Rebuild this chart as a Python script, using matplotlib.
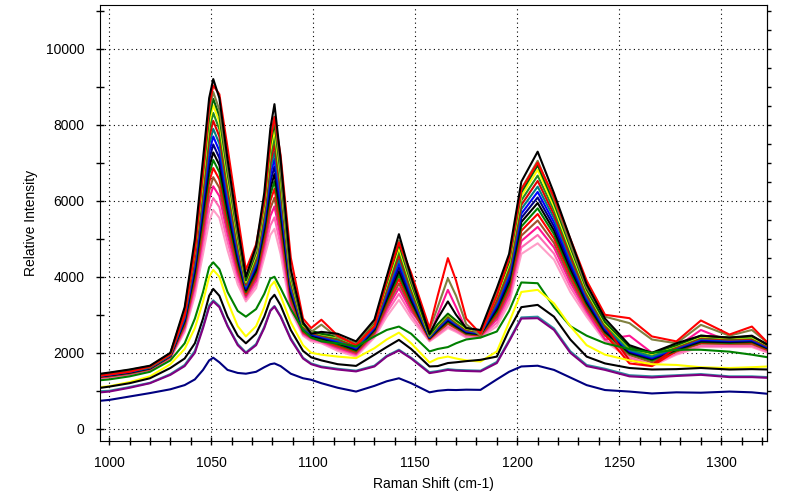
import matplotlib
matplotlib.use("Agg")
import matplotlib.pyplot as plt
from matplotlib.ticker import MultipleLocator, NullFormatter

plt.rcParams['font.family'] = ['Liberation Sans', 'DejaVu Sans']

shift = [996, 1000, 1010, 1020, 1030, 1037, 1042, 1046, 1049, 1051,
         1054, 1058, 1063, 1067, 1072, 1076, 1079, 1081, 1084, 1089,
         1095, 1099, 1104, 1112, 1121, 1130, 1136, 1142, 1148, 1157,
         1161, 1166, 1170, 1175, 1182, 1190, 1196, 1202, 1210, 1218,
         1226, 1234, 1243, 1255, 1266, 1278, 1290, 1304, 1315, 1323]

# upper group of spectra
black_a = [1450, 1480, 1560, 1660, 2000, 3200, 5000, 7100, 8700, 9200, 8700, 7100, 5300, 4000, 4800, 6200, 7900, 8540, 7100, 4200,
           2800, 2500, 2550, 2500, 2300, 2870, 4000, 5120, 4000, 2500, 2900, 3350, 3000, 2650, 2600, 3700, 4600, 6500, 7290, 6200,
           5000, 3800, 2900, 2200, 2000, 2250, 2450, 2400, 2450, 2200]
red_a = [1400, 1430, 1500, 1640, 1960, 3000, 4700, 6800, 8500, 9030, 8800, 7400, 5600, 4180, 4850, 6000, 7600, 8200, 7200, 4500,
         2900, 2650, 2870, 2450, 2200, 2700, 3900, 4900, 4100, 2650, 3500, 4490, 3900, 2900, 2500, 3500, 4500, 6300, 7000, 6100,
         5000, 3900, 3000, 2910, 2430, 2300, 2850, 2480, 2690, 2250]
olive_a = [1440, 1470, 1550, 1650, 1990, 3140, 4850, 6850, 8380, 8860, 8390, 6860, 5150, 4000, 4690, 6030, 7620, 8210, 6850, 4090,
           2800, 2550, 2740, 2400, 2250, 2820, 3900, 4950, 3900, 2600, 3200, 3960, 3500, 2750, 2450, 3600, 4470, 6310, 7050, 6030,
           4860, 3720, 2950, 2780, 2350, 2250, 2735, 2450, 2600, 2250]
dkgreen_a = [1430, 1460, 1540, 1640, 1980, 3100, 4780, 6730, 8210, 8680, 8230, 6740, 5080, 3900, 4640, 5950, 7480, 8050, 6730, 4040,
             2750, 2580, 2500, 2430, 2240, 2800, 3840, 4860, 3840, 2470, 2750, 3030, 2850, 2660, 2570, 3550, 4400, 6220, 6930, 5940,
             4790, 3670, 2810, 2150, 1990, 2200, 2450, 2400, 2430, 2210]
yellow_a = [1430, 1450, 1530, 1640, 1970, 3070, 4700, 6600, 8050, 8510, 8070, 6620, 5000, 3870, 4580, 5860, 7340, 7880, 6600, 3980,
            2730, 2570, 2490, 2410, 2220, 2780, 3790, 4770, 3780, 2460, 2730, 3010, 2830, 2640, 2560, 3500, 4340, 6120, 6810, 5850,
            4720, 3630, 2780, 2130, 1970, 2190, 2430, 2390, 2410, 2200]
green_a = [1420, 1450, 1520, 1630, 1960, 3030, 4610, 6450, 7860, 8310, 7880, 6480, 4910, 3830, 4510, 5760, 7170, 7690, 6450, 3910,
           2710, 2550, 2470, 2380, 2200, 2750, 3730, 4670, 3710, 2450, 2710, 2980, 2810, 2620, 2550, 3440, 4260, 6010, 6660, 5750,
           4640, 3580, 2740, 2110, 1950, 2170, 2410, 2370, 2390, 2190]
red_b = [1410, 1440, 1520, 1620, 1950, 2990, 4520, 6300, 7660, 8100, 7690, 6330, 4820, 3790, 4450, 5660, 7000, 7490, 6300, 3850,
         2690, 2530, 2450, 2360, 2170, 2720, 3660, 4570, 3650, 2440, 2690, 2960, 2790, 2600, 2540, 3380, 4180, 5890, 6520, 5640,
         4550, 3530, 2710, 1800, 1680, 2150, 2390, 2350, 2370, 2170]
teal_a = [1400, 1430, 1510, 1610, 1940, 2950, 4430, 6150, 7470, 7890, 7500, 6190, 4730, 3750, 4380, 5550, 6840, 7290, 6150, 3780,
          2670, 2510, 2440, 2330, 2150, 2690, 3600, 4460, 3580, 2420, 2670, 2930, 2770, 2590, 2520, 3320, 4110, 5780, 6370, 5540,
          4470, 3480, 2670, 2070, 1900, 2140, 2370, 2340, 2360, 2160]
blue_a = [1400, 1420, 1500, 1610, 1930, 2910, 4340, 6000, 7270, 7690, 7310, 6040, 4640, 3710, 4320, 5450, 6670, 7100, 6000, 3720,
          2650, 2490, 2420, 2300, 2120, 2660, 3540, 4360, 3520, 2410, 2650, 2900, 2750, 2570, 2510, 3260, 4030, 5660, 6230, 5430,
          4380, 3430, 2640, 2050, 1870, 2120, 2350, 2320, 2340, 2140]
navy_a = [1390, 1415, 1490, 1600, 1925, 2875, 4250, 5850, 7075, 7480, 7125, 5900, 4550, 3675, 4250, 5350, 6500, 6900, 5850, 3650,
          2625, 2470, 2400, 2275, 2100, 2635, 3475, 4255, 3450, 2400, 2625, 2875, 2725, 2550, 2500, 3200, 3950, 5550, 6085, 5325,
          4300, 3375, 2600, 2025, 1850, 2100, 2325, 2300, 2315, 2125]
black_b = [1380, 1410, 1480, 1590, 1920, 2840, 4160, 5700, 6880, 7270, 6940, 5760, 4460, 3640, 4180, 5250, 6330, 6700, 5700, 3580,
           2600, 2450, 2380, 2250, 2080, 2610, 3410, 4150, 3380, 2390, 2600, 2850, 2700, 2530, 2490, 3140, 3870, 5440, 5940, 5220,
           4220, 3320, 2560, 2000, 1830, 2080, 2300, 2280, 2300, 2110]
green_b = [1380, 1400, 1470, 1590, 1910, 2800, 4070, 5550, 6690, 7070, 6750, 5610, 4370, 3600, 4120, 5150, 6160, 6510, 5550, 3520,
           2580, 2430, 2360, 2220, 2050, 2580, 3350, 4050, 3320, 2380, 2580, 2820, 2680, 2510, 2480, 3080, 3790, 5320, 5800, 5120,
           4130, 3270, 2530, 1980, 1800, 2060, 2280, 2260, 2280, 2100]
red_c = [1370, 1390, 1470, 1580, 1900, 2760, 3980, 5400, 6490, 6860, 6560, 5470, 4280, 3560, 4050, 5040, 6000, 6310, 5400, 3450,
         2560, 2410, 2350, 2190, 2030, 2550, 3290, 3940, 3250, 2360, 2560, 2790, 2660, 2500, 2460, 3020, 3720, 5210, 5650, 5010,
         4050, 3220, 2490, 1720, 1650, 2050, 2260, 2250, 2260, 2080]
sienna_a = [1360, 1380, 1455, 1570, 1890, 2710, 3880, 5230, 6260, 6620, 6340, 5300, 4180, 3510, 3980, 4930, 5800, 6080, 5230, 3380,
            2540, 2390, 2330, 2160, 2000, 2520, 3210, 3820, 3180, 2350, 2540, 2760, 2640, 2480, 2450, 2950, 3630, 5080, 5480, 4890,
            3950, 3160, 2450, 1940, 1750, 2030, 2240, 2230, 2230, 2060]
dpink_a = [1350, 1375, 1445, 1560, 1880, 2670, 3770, 5050, 6040, 6380, 6120, 5130, 4070, 3470, 3900, 4810, 5600, 5850, 5050, 3300,
           2510, 2380, 2300, 2130, 1970, 2490, 3140, 3700, 3100, 2450, 3000, 3655, 3200, 2600, 2440, 2880, 3530, 4940, 5310, 4770,
           3850, 3100, 2350, 2450, 2000, 2150, 2600, 2300, 2400, 2150]
hpink_a = [1340, 1360, 1430, 1550, 1860, 2610, 3640, 4830, 5740, 6070, 5830, 4920, 3940, 3410, 3800, 4650, 5350, 5560, 4830, 3200,
           2480, 2340, 2280, 2090, 1940, 2440, 3050, 3550, 3000, 2320, 2480, 2690, 2580, 2430, 2420, 2790, 3420, 4770, 5100, 4610,
           3730, 3030, 2350, 1880, 1690, 1980, 2180, 2180, 2180, 2020]
lpink_a = [1330, 1350, 1420, 1540, 1850, 2550, 3500, 4600, 5450, 5760, 5550, 4700, 3800, 3350, 3700, 4500, 5100, 5260, 4600, 3100,
           2450, 2300, 2250, 2050, 1900, 2400, 2950, 3390, 2900, 2300, 2450, 2650, 2550, 2400, 2400, 2700, 3300, 4600, 4880, 4450,
           3600, 2950, 2300, 1850, 1650, 1950, 2150, 2150, 2150, 2000]

# lower spectra
green_low = [1280, 1300, 1380, 1500, 1800, 2250, 2900, 3600, 4250, 4380, 4200, 3600, 3100, 2950, 3150, 3550, 3950, 4000, 3700, 3150,
             2600, 2400, 2300, 2250, 2165, 2430, 2600, 2690, 2500, 2035, 2100, 2150, 2250, 2350, 2400, 2560, 3100, 3850, 3830, 3200,
             2700, 2450, 2250, 2100, 2000, 2080, 2080, 2030, 1950, 1880]
yellow_low = [1100, 1120, 1230, 1380, 1700, 2100, 2650, 3350, 4000, 4180, 4000, 3350, 2700, 2430, 2700, 3200, 3750, 3875, 3500, 2800,
              2200, 2000, 1950, 1900, 1860, 2120, 2350, 2530, 2250, 1745, 1850, 1900, 1850, 1800, 1770, 2035, 2800, 3600, 3655, 3300,
              2700, 2200, 1950, 1800, 1700, 1680, 1620, 1600, 1620, 1640]
black_low = [1080, 1110, 1200, 1330, 1600, 1850, 2250, 2900, 3500, 3680, 3500, 2950, 2450, 2250, 2500, 2950, 3400, 3525, 3250, 2600,
             2050, 1880, 1800, 1700, 1655, 1950, 2150, 2340, 2100, 1640, 1650, 1730, 1750, 1780, 1815, 1900, 2600, 3200, 3260, 2950,
             2350, 1900, 1720, 1600, 1560, 1570, 1600, 1560, 1570, 1560]
teal_low = [990, 1000, 1100, 1210, 1440, 1680, 2050, 2700, 3250, 3380, 3230, 2720, 2230, 2010, 2230, 2680, 3120, 3230, 2970, 2380,
            1870, 1720, 1640, 1580, 1530, 1660, 1920, 2080, 1870, 1490, 1520, 1570, 1550, 1540, 1530, 1760, 2330, 2930, 2950, 2640,
            2040, 1680, 1580, 1410, 1380, 1410, 1440, 1380, 1380, 1360]
purple_low = [960, 980, 1080, 1200, 1420, 1650, 2000, 2650, 3200, 3350, 3200, 2700, 2200, 1990, 2200, 2650, 3100, 3215, 2950, 2350,
              1850, 1700, 1620, 1560, 1510, 1640, 1900, 2060, 1850, 1465, 1500, 1550, 1530, 1520, 1510, 1730, 2300, 2900, 2910, 2600,
              2000, 1650, 1550, 1380, 1350, 1390, 1420, 1360, 1360, 1340]
navy_low = [740, 760, 850, 940, 1040, 1150, 1300, 1550, 1800, 1870, 1750, 1550, 1470, 1450, 1500, 1620, 1700, 1720, 1650, 1450,
            1330, 1290, 1200, 1080, 980, 1130, 1250, 1330, 1200, 960, 1000, 1025, 1020, 1030, 1025, 1300, 1500, 1640, 1660, 1550,
            1350, 1150, 1020, 980, 930, 960, 950, 980, 960, 920]

spectra = [
    (lpink_a, "#ff9ec8"), (hpink_a, "#ff69b4"), (dpink_a, "#ff1493"),
    (sienna_a, "#a0522d"), (red_c, "#ff0000"), (green_b, "#008000"),
    (black_b, "#000000"), (navy_a, "#000080"), (blue_a, "#0000ff"),
    (teal_a, "#008080"), (red_b, "#e00000"), (green_a, "#228b22"),
    (yellow_a, "#ffff00"), (dkgreen_a, "#006400"), (olive_a, "#808040"),
    (red_a, "#ff0000"), (black_a, "#000000"),
    (green_low, "#008000"), (yellow_low, "#ffff00"), (black_low, "#000000"),
    (teal_low, "#2f8f9f"), (purple_low, "#800080"), (navy_low, "#000080"),
]

fig = plt.figure(figsize=(8, 4.93), dpi=100)
ax = fig.add_axes([0.125, 0.1055, 0.834, 0.8845])

for vals, col in spectra:
    ax.plot(shift, vals, color=col, lw=1.5)

ax.set_xlim(995.5, 1322.5)
ax.set_ylim(-320, 11150)
ax.xaxis.set_major_locator(MultipleLocator(50))
ax.xaxis.set_minor_locator(MultipleLocator(10))
ax.yaxis.set_major_locator(MultipleLocator(2000))
ax.yaxis.set_minor_locator(MultipleLocator(1000))
ax.tick_params(which='both', direction='inout', length=6, width=1, labelsize=10, color='black')
ax.tick_params(axis='x', pad=8)
ax.tick_params(axis='y', pad=8)
ax.grid(True, which='major', color='black', linestyle=(0, (1, 3)), lw=0.8)

# small outward ticks on the right-hand spine
right = ax.secondary_yaxis('right')
right.yaxis.set_major_locator(MultipleLocator(500))
right.yaxis.set_major_formatter(NullFormatter())
right.tick_params(direction='out', length=3, width=1)

ax.set_xlabel("Raman Shift (cm-1)", fontsize=10, labelpad=5)
ax.set_ylabel("Relative Intensity", fontsize=10, labelpad=6)

fig.savefig("out.png", dpi=100, facecolor="white")
